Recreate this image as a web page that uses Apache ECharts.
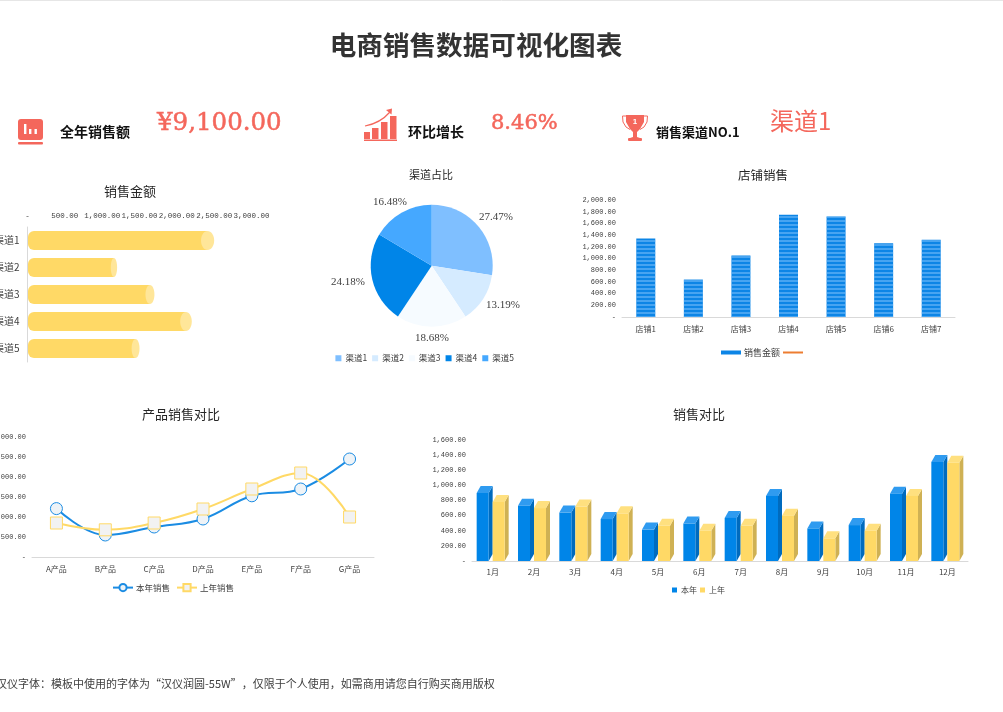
<!DOCTYPE html>
<html><head><meta charset="utf-8">
<style>html,body{margin:0;padding:0;background:#fff;overflow:hidden}#c{width:1003px;height:712px}</style>
<script src="https://cdn.jsdelivr.net/npm/echarts@6/dist/echarts.min.js"></script>
</head><body><div id="c"></div>
<script>
const pageTitle = '电商销售数据可视化图表';
const kpiLabels = ['全年销售额', '环比增长', '销售渠道NO.1'];
const kpiValues = ['¥9,100.00', '8.46%', '渠道1'];
const footer = '汉仪字体：模板中使用的字体为“汉仪润圆-55W”，仅限于个人使用，如需商用请您自行购买商用版权';
const channels = ['渠道1', '渠道2', '渠道3', '渠道4', '渠道5'];
const channelSales = [2500, 1200, 1700, 2200, 1500];
const channelColors = ['#7FBFFF', '#D5EBFF', '#F6FBFF', '#0085E8', '#45A8FF'];
const stores = ['店铺1', '店铺2', '店铺3', '店铺4', '店铺5', '店铺6', '店铺7'];
const storeSales = [1340, 640, 1050, 1750, 1720, 1260, 1320];
const products = ['A产品', 'B产品', 'C产品', 'D产品', 'E产品', 'F产品', 'G产品'];
const productThisYear = [1210, 550, 750, 950, 1530, 1700, 2450];
const productLastYear = [850, 680, 850, 1200, 1700, 2100, 1000];
const months = ['1月','2月','3月','4月','5月','6月','7月','8月','9月','10月','11月','12月'];
const monthThisYear = [900, 730, 640, 555, 415, 495, 570, 860, 430, 475, 890, 1310];
const monthLastYear = [780, 700, 720, 630, 465, 400, 465, 600, 300, 400, 860, 1300];

const MONO = '"Liberation Mono", monospace';
const CJK = '"Noto Sans CJK SC", sans-serif';
const SERIF = '"DejaVu Serif", serif';
const TXT = '#404040', CORAL = '#F4675C', AXIS = '#D9D9D9';
const money = v => v === 0 ? '-' : v.toLocaleString('en-US', {minimumFractionDigits: 2, maximumFractionDigits: 2});

const valueLabel = {fontFamily: MONO, fontSize: 7, color: TXT, formatter: money, margin: 6, hideOverlap: false};
const catLabel = {fontFamily: CJK, fontSize: 8, color: TXT, margin: 8, interval: 0};
const valueAxis = (gridIndex, max, interval, extra) => Object.assign({
  type: 'value', gridIndex, min: 0, max, interval,
  axisLine: {show: false}, axisTick: {show: false}, splitLine: {show: false},
  axisLabel: valueLabel
}, extra || {});
const catAxis = (gridIndex, data, extra) => Object.assign({
  type: 'category', gridIndex, data,
  axisLine: {show: true, lineStyle: {color: AXIS, width: 1}}, axisTick: {show: false},
  axisLabel: catLabel
}, extra || {});
const heading = (text, cx, top, size) => ({
  text, left: cx, top, textAlign: 'center', padding: 0,
  textStyle: {fontFamily: CJK, fontSize: size, fontWeight: 'normal', color: '#262626'}
});
const txt = (text, x, y, size, fill, weight, family, align) => ({
  type: 'text', x, y, silent: true,
  style: {text, fontSize: size, fill, fontWeight: weight || 'normal', fontFamily: family || CJK,
    textAlign: align || 'left', textVerticalAlign: 'middle'}
});
const heavy = el => { el.style.stroke = el.style.fill; el.style.lineWidth = 0.5; return el; };
const poly = (points) => ({type: 'polygon', silent: true, shape: {points}, style: {fill: CORAL}});
const rect = (x, y, width, height, r, fill) => ({type: 'rect', silent: true, shape: {x, y, width, height, r: r || 0}, style: {fill: fill || CORAL}});
const wire = (points) => ({type: 'polyline', silent: true, shape: {points}, style: {stroke: CORAL, fill: 'none', lineWidth: 1}});

const icons = [
  rect(18, 119, 25, 21, 3),
  rect(18, 142, 25, 2.5, 1),
  rect(24, 124, 2.4, 10, 0, '#fff'), rect(29, 129, 2.4, 5, 0, '#fff'), rect(34.5, 129, 2.4, 5, 0, '#fff'),
  rect(364, 132, 6, 7), rect(372, 128, 6.5, 11), rect(381, 122, 6.5, 17), rect(390, 116, 6.5, 23),
  rect(364, 139.5, 33, 1.6),
  {type: 'bezierCurve', silent: true, shape: {x1: 365, y1: 126, cpx1: 376, cpy1: 124, cpx2: 383, cpy2: 120, x2: 390, y2: 112},
    style: {stroke: CORAL, fill: 'none', lineWidth: 1.2}},
  poly([[386, 110], [392, 108.5], [391.5, 114.5]]),
  poly([[626,115],[644,115],[644,122],[640,129],[637,132],[637,137],[640,138],[630,138],[633,137],[633,132],[630,129],[626,122]]),
  wire([[626,116],[622.5,116],[623,122],[626,127],[630,129.5]]),
  wire([[644,116],[647.5,116],[647,122],[644,127],[640,129.5]]),
  rect(628, 138, 14, 3, 1),
  txt('1', 635, 122, 8, '#fff', 'bold', 'Liberation Sans', 'center')
];

const texts = [
  {type: 'line', silent: true, shape: {x1: 0, y1: 0.5, x2: 1003, y2: 0.5}, style: {stroke: '#E6E6E6', lineWidth: 1}},
  txt(pageTitle, 476, 45, 26.6, '#333333', 'bold', CJK, 'center'),
  txt(kpiLabels[0], 60, 132, 14, '#111', 'bold'),
  txt(kpiLabels[1], 408, 132, 14, '#111', 'bold'),
  txt(kpiLabels[2], 656, 132, 13, '#111', 'bold'),
  heavy(txt(kpiValues[0], 157, 124, 24.5, CORAL, 'normal', SERIF)),
  heavy(txt(kpiValues[1], 491, 124, 21, CORAL, 'normal', SERIF)),
  txt(kpiValues[2], 770, 121, 24, CORAL, 'normal', CJK),
  txt(footer, -4, 684, 11, '#404040')
];

// Cylinder bar: body plus lighter end cap, placed through the axes' own scale.
const cylinder = (params, api) => {
  const v = api.value(0);
  const end = api.coord([v, api.value(1)]);
  const base = api.coord([0, api.value(1)]);
  const h = 19, capW = v / 190;
  const cx = end[0] - capW / 2;
  return {type: 'group', children: [
    {type: 'rect', shape: {x: base[0] + 0.5, y: end[1] - h / 2, width: cx - base[0] - 0.5, height: h, r: [6, 0, 0, 6]}, style: {fill: '#FFD966'}},
    {type: 'ellipse', shape: {cx, cy: end[1], rx: capW / 2, ry: h / 2}, style: {fill: '#FFE699'}}
  ]};
};
// 3D column drawn from the axes' own scale.
const column3d = (side, top, front, shift) => (params, api) => {
  const base = api.coord([api.value(0), 0]);
  const head = api.coord([api.value(0), api.value(1)]);
  const w = 12, dx = 4, dy = 7;
  const x0 = base[0] + shift, x1 = x0 + w;
  return {type: 'group', children: [
    {type: 'polygon', shape: {points: [[x1, base[1]], [x1 + dx, base[1] - dy], [x1 + dx, head[1] - dy], [x1, head[1]]]}, style: {fill: side}},
    {type: 'polygon', shape: {points: [[x0, head[1]], [x0 + dx, head[1] - dy], [x1 + dx, head[1] - dy], [x1, head[1]]]}, style: {fill: top}},
    {type: 'rect', shape: {x: x0, y: head[1], width: w, height: base[1] - head[1]}, style: {fill: front}}
  ]};
};
const pairs = vals => vals.map((v, i) => [months[i], v]);
const pieLabelAt = [[496, 217.5], [503, 305], [432, 338], [348, 282], [390, 202]];

const option = {
  backgroundColor: '#fff', animation: false,
  title: [
    heading('销售金额', 130, 185, 13),
    heading('渠道占比', 431, 169, 11),
    heading('店铺销售', 763, 169, 12.5),
    heading('产品销售对比', 181, 408, 13),
    heading('销售对比', 699, 408, 13)
  ],
  legend: [
    {data: channels.map(name => ({name, icon: 'rect'})), right: 1003 - 514, top: 354, itemWidth: 6, itemHeight: 6, itemGap: 5, padding: 0, textStyle: {fontFamily: CJK, fontSize: 8.5, color: TXT, padding: [0, 0, 0, -1]}},
    {data: [{name: '销售金额', icon: 'rect', itemStyle: {decal: 'none'}}, {name: ' ', itemStyle: {opacity: 0}}], left: 721, top: 348, itemWidth: 20, itemHeight: 4, itemGap: 2, padding: 0, textStyle: {fontFamily: CJK, fontSize: 9, color: TXT, padding: [0, 0, 0, -2]}},
    {data: ['本年销售', '上年销售'], left: 112, top: 583, itemWidth: 20, itemHeight: 9, itemGap: 6, padding: 0, textStyle: {fontFamily: CJK, fontSize: 8.5, color: TXT, padding: [0, 0, 0, -2]}},
    {data: [{name: '本年', icon: 'rect'}, {name: '上年', icon: 'rect'}], left: 672, top: 586, itemWidth: 5, itemHeight: 5, itemGap: 3, padding: 0, textStyle: {fontFamily: CJK, fontSize: 8, color: TXT, padding: [0, 0, 0, -1]}}
  ],
  grid: [
    {left: 27.5, top: 227, width: 224, height: 135, outerBoundsMode: 'none', containLabel: false},
    {left: 622, top: 200, width: 333, height: 117, outerBoundsMode: 'none', containLabel: false},
    {left: 32, top: 437, width: 342, height: 120, outerBoundsMode: 'none', containLabel: false},
    {left: 472, top: 440, width: 496, height: 121, outerBoundsMode: 'none', containLabel: false}
  ],
  xAxis: [
    valueAxis(0, 3000, 500, {position: 'top', axisLabel: Object.assign({}, valueLabel, {fontSize: 7.5, margin: 7})}),
    catAxis(1, stores),
    catAxis(2, products),
    catAxis(3, months, {axisLabel: Object.assign({}, catLabel, {margin: 7})})
  ],
  yAxis: [
    catAxis(0, channels, {inverse: true, axisLabel: {fontFamily: CJK, fontSize: 10, color: TXT, margin: 8, interval: 0}}),
    valueAxis(1, 2000, 200),
    valueAxis(2, 3000, 500),
    valueAxis(3, 1600, 200)
  ],
  series: [
    {type: 'custom', xAxisIndex: 0, yAxisIndex: 0, data: channelSales.map((v, i) => [v, channels[i]]), encode: {x: 0, y: 1},
      itemStyle: {color: '#FFD966'}, clip: false, renderItem: cylinder},
    {type: 'pie', center: [431.7, 265.7], radius: [0, 61], startAngle: 90, clockwise: true,
      data: channels.map((name, i) => ({name, value: channelSales[i], itemStyle: {color: channelColors[i]}})),
      label: {show: true, position: 'outside', fontFamily: '"Liberation Serif", serif', fontSize: 11, color: TXT,
        formatter: p => p.percent.toFixed(2) + '%'},
      labelLine: {show: false},
      labelLayout: p => ({x: pieLabelAt[p.dataIndex][0], y: pieLabelAt[p.dataIndex][1], align: 'center', verticalAlign: 'middle'}),
      emphasis: {disabled: true}},
    {type: 'bar', name: '销售金额', xAxisIndex: 1, yAxisIndex: 1, data: storeSales, barWidth: 19,
      itemStyle: {color: '#0C85E6', decal: {symbol: 'rect', dashArrayX: [1, 0], dashArrayY: [2, 2], rotation: 0, color: 'rgba(120,190,250,0.55)', symbolSize: 1}}},
    {type: 'line', name: ' ', xAxisIndex: 1, yAxisIndex: 1, data: [], symbol: 'none', showSymbol: false,
      itemStyle: {color: '#ED7D31'}, lineStyle: {color: '#ED7D31', width: 2}},
    {type: 'line', name: '本年销售', xAxisIndex: 2, yAxisIndex: 2, data: productThisYear, smooth: 0.4,
      symbol: 'circle', symbolSize: 12, lineStyle: {color: '#1B8CE3', width: 2},
      itemStyle: {color: '#EEF3F7', borderColor: '#1B8CE3', borderWidth: 1}},
    {type: 'line', name: '上年销售', xAxisIndex: 2, yAxisIndex: 2, data: productLastYear, smooth: 0.4,
      symbol: 'rect', symbolSize: 12, lineStyle: {color: '#FFD966', width: 2},
      itemStyle: {color: '#F2F2F2', borderColor: '#FFD966', borderWidth: 1}},
    {type: 'custom', name: '本年', xAxisIndex: 3, yAxisIndex: 3, data: pairs(monthThisYear), encode: {x: 0, y: 1},
      itemStyle: {color: '#0085E8'}, clip: false,
      renderItem: column3d('#006BBE', '#2F9BF0', '#0085E8', -16)},
    {type: 'custom', name: '上年', xAxisIndex: 3, yAxisIndex: 3, data: pairs(monthLastYear), encode: {x: 0, y: 1},
      itemStyle: {color: '#FFD966'}, clip: false,
      renderItem: column3d('#CFB154', '#FFE07F', '#FFD966', 0)}
  ],
  graphic: {elements: icons.concat(texts)}
};
echarts.init(document.getElementById('c'), null, {renderer: 'canvas'}).setOption(option);
</script></body></html>
